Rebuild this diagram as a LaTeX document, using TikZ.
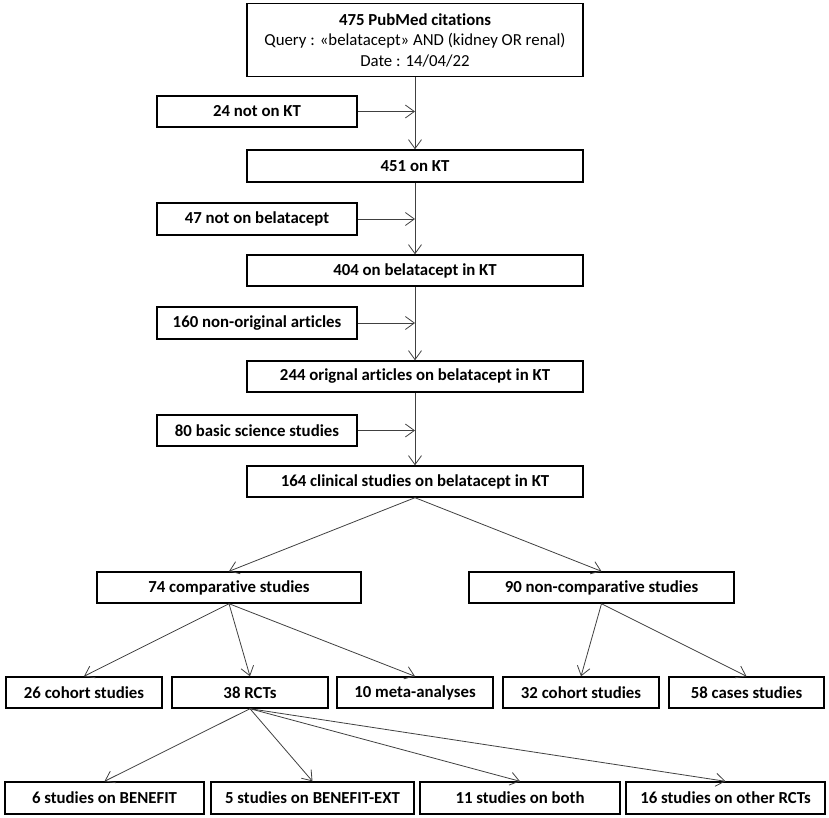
\documentclass[tikz,border=0pt]{standalone}
\usepackage{fontspec}
\setmainfont{Carlito}[Ligatures=NoCommon]
\usetikzlibrary{arrows.meta}
\begin{document}
\begin{tikzpicture}[x=1pt,y=-1pt,
  box/.style={draw=black,line width=1.4pt,inner sep=0pt,minimum height=31pt,
    font=\fontsize{16.8}{20.5}\selectfont\bfseries,align=center},
  wide/.style={box,minimum width=336pt},
  side/.style={box,minimum width=200pt},
  leaf/.style={box,minimum width=156pt},
  bot/.style={box,minimum width=200pt},
  arr/.style={draw=black!75,line width=0.8pt,-{Straight Barb[length=9pt,width=13pt,line width=0.8pt]}}]
\useasboundingbox (0,0) rectangle (829,818);
\node[wide,minimum height=73pt] (top) at (415,40) {475 PubMed citations\\\mdseries Query : «belatacept» AND (kidney OR renal)\\\mdseries Date : 14/04/22};
\node[side] (n24) at (257,111.5) {24 not on KT};
\node[wide,minimum height=32pt] (b451) at (415,166) {451 on KT};
\node[side,minimum height=32pt] (n47) at (257,219) {47 not on belatacept};
\node[wide] (b404) at (415,270.5) {404 on belatacept in KT};
\node[side,minimum height=32pt] (n160) at (257,323) {160 non-original articles};
\node[wide] (b244) at (415,376.5) {244 orignal articles on belatacept in KT};
\node[side] (n80) at (257,430.5) {80 basic science studies};
\node[wide] (b164) at (415,481.5) {164 clinical studies on belatacept in KT};
\node[box,minimum width=264pt] (b74) at (229,587.5) {74 comparative studies};
\node[box,minimum width=265pt] (b90) at (601.5,587.5) {90 non-comparative studies};
\node[leaf] (c26) at (84,692.5) {26 cohort studies};
\node[leaf] (rct) at (250,692.5) {38 RCTs};
\node[leaf] (meta) at (415,692.5) {10 meta-analyses};
\node[leaf] (c32) at (581,692.5) {32 cohort studies};
\node[leaf,minimum width=155pt] (cases) at (746.5,692.5) {58 cases studies};
\node[bot,minimum width=199pt,minimum height=32pt] (ben) at (104.5,798) {6 studies on BENEFIT};
\node[bot,minimum width=203pt,minimum height=32pt] (ext) at (312.5,798) {5 studies on BENEFIT-EXT};
\node[bot,minimum height=32pt] (both) at (520,798) {11 studies on both};
\node[bot,minimum width=199pt,minimum height=32pt] (oth) at (725.5,798) {16 studies on other RCTs};
% main chain
\draw[arr] (top.south) -- (b451.north);
\draw[arr] (b451.south) -- (b404.north);
\draw[arr] (b404.south) -- (b244.north);
\draw[arr] (b244.south) -- (b164.north);
% exclusions
\draw[arr] (n24.east) -- (n24.east -| top.south);
\draw[arr] (n47.east) -- (n47.east -| top.south);
\draw[arr] (n160.east) -- (n160.east -| top.south);
\draw[arr] (n80.east) -- (n80.east -| top.south);
% branches
\draw[arr] (b164.south) -- (b74.north);
\draw[arr] (b164.south) -- (b90.north);
\draw[arr] (b74.south) -- (c26.north);
\draw[arr] (b74.south) -- (rct.north);
\draw[arr] (b74.south) -- (meta.north);
\draw[arr] (b90.south) -- (c32.north);
\draw[arr] (b90.south) -- (cases.north);
\draw[arr] (rct.south) -- (ben.north);
\draw[arr] (rct.south) -- (ext.north);
\draw[arr] (rct.south) -- (both.north);
\draw[arr] (rct.south) -- (oth.north);
\end{tikzpicture}
\end{document}
